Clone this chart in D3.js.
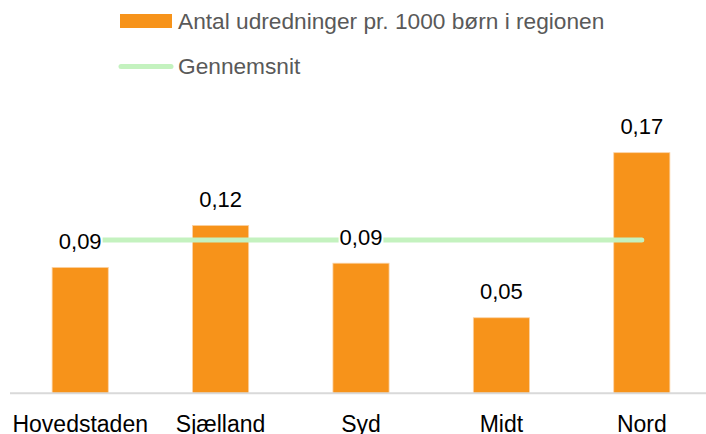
<!DOCTYPE html>
<html>
<head>
<meta charset="utf-8">
<script src="https://cdn.jsdelivr.net/npm/d3@7"></script>
<style>
  html, body { margin: 0; padding: 0; background: #fff; }
  svg { display: block; }
</style>
</head>
<body>
<svg id="chart" width="706" height="434"></svg>
<script>
const categories = ["Hovedstaden", "Sjælland", "Syd", "Midt", "Nord"];
const values = [0.090, 0.120, 0.093, 0.054, 0.172];
const average = [0.1095, 0.1095, 0.1095, 0.1095, 0.1095];
const seriesNames = ["Antal udredninger pr. 1000 børn i regionen", "Gennemsnit"];

const W = 706, H = 434;
const svg = d3.select("#chart");
const FONT = "'Liberation Sans', Arial, sans-serif";

const x = d3.scaleBand().domain(categories).range([10, 712]).paddingInner(0.6).paddingOuter(0.3);
const y = d3.scaleLinear().domain([0, 0.2]).range([393.3, 113.5]);

const fmt = v => d3.format(".2f")(v).replace(".", ",");

// bars
svg.append("g").selectAll("rect").data(categories).join("rect")
  .attr("x", d => x(d))
  .attr("y", (d, i) => y(values[i]))
  .attr("width", x.bandwidth())
  .attr("height", (d, i) => y(0) - y(values[i]))
  .attr("fill", "#f7931a")
  .attr("stroke", "#fbd3a6")
  .attr("stroke-width", 0.8);

// axis baseline
const xAxis = d3.axisBottom(x).tickSize(0).tickPadding(22);
const ax = svg.append("g").attr("transform", `translate(0,${y(0)})`).call(xAxis);
ax.select(".domain").attr("stroke", "#d9d9d9").attr("stroke-width", 2)
  .attr("d", `M10,0H706`);
ax.selectAll("text").attr("font-family", FONT).attr("font-size", 23).attr("fill", "#000")
  .attr("dy", "0.71em");

// average line
const line = d3.line().x((d, i) => x(categories[i]) + x.bandwidth() / 2).y(d => y(d));
svg.append("path").datum(average)
  .attr("d", line)
  .attr("fill", "none")
  .attr("stroke", "#c4f2bf")
  .attr("stroke-width", 5)
  .attr("stroke-linecap", "round");

// data labels
const lg = svg.append("g");
categories.forEach((c, i) => {
  const cx = x(c) + x.bandwidth() / 2;
  const by = y(values[i]) - 18.5;
  const t = lg.append("text")
    .attr("x", cx).attr("y", by)
    .attr("text-anchor", "middle")
    .attr("font-family", FONT).attr("font-size", 22).attr("fill", "#000")
    .text(fmt(values[i]));
  const bb = t.node().getBBox();
  lg.insert("rect", () => t.node())
    .attr("x", bb.x - 1).attr("y", bb.y).attr("width", bb.width + 2).attr("height", bb.height)
    .attr("fill", "#fff");
});

// legend
const leg = svg.append("g");
leg.append("rect").attr("x", 120).attr("y", 14).attr("width", 52).attr("height", 14).attr("fill", "#f7931a");
leg.append("text").attr("x", 178).attr("y", 29)
  .attr("font-family", FONT).attr("font-size", 22.7).attr("fill", "#595959")
  .text(seriesNames[0]);
leg.append("line").attr("x1", 121).attr("x2", 171).attr("y1", 66.5).attr("y2", 66.5)
  .attr("stroke", "#c4f2bf").attr("stroke-width", 5).attr("stroke-linecap", "round");
leg.append("text").attr("x", 178).attr("y", 74)
  .attr("font-family", FONT).attr("font-size", 22.7).attr("fill", "#595959")
  .text(seriesNames[1]);
</script>
</body>
</html>
